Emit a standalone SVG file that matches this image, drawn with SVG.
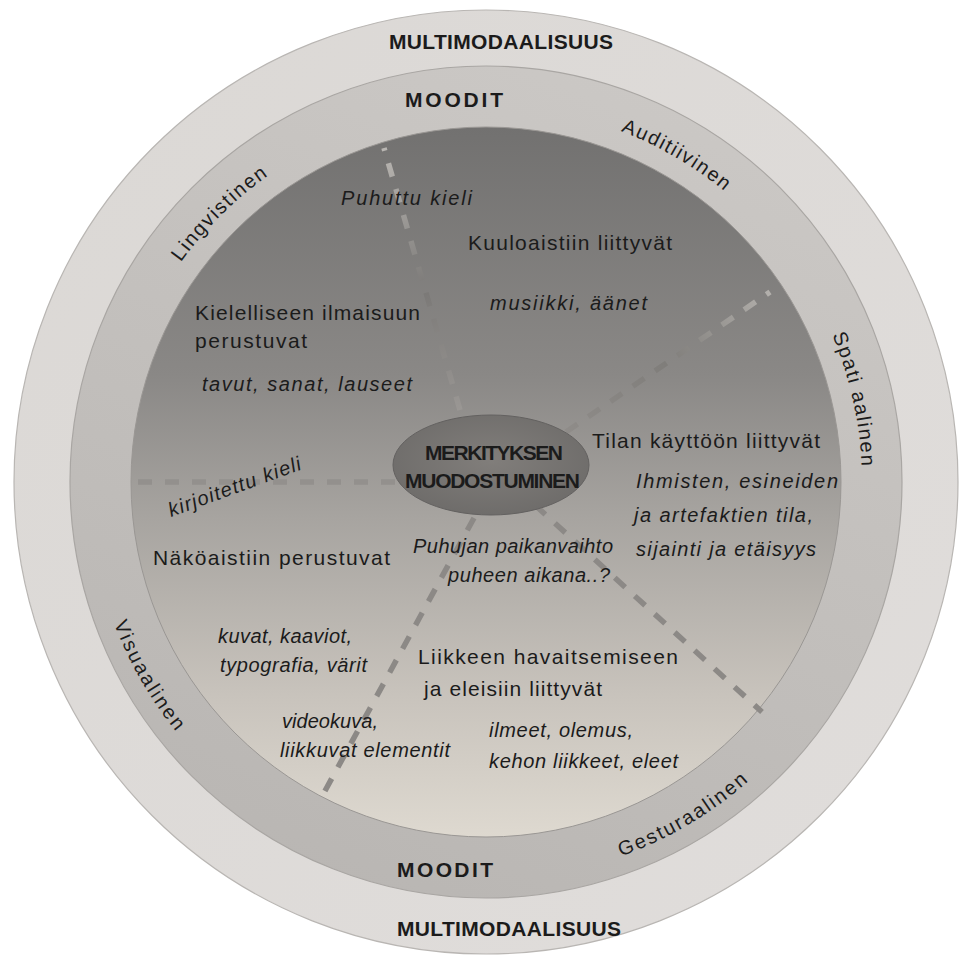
<svg xmlns="http://www.w3.org/2000/svg" width="959" height="960" viewBox="0 0 959 960">
<style>
.t{font-family:"Liberation Sans",Arial,Helvetica,sans-serif;font-size:21px;fill:#1b1b1b}
.i{font-style:italic;font-size:20px}
.b{font-weight:bold}
.rl{font-family:"Liberation Sans",Arial,Helvetica,sans-serif;font-size:20px;fill:#1b1b1b;letter-spacing:1.6px}
.dash{fill:none;stroke-width:5.5;stroke-dasharray:14 13}
</style>
<defs>
<linearGradient id="innerGrad" x1="0" y1="0" x2="0" y2="1">
<stop offset="0" stop-color="#727170"/>
<stop offset="0.35" stop-color="#8a8886"/>
<stop offset="0.55" stop-color="#a7a4a0"/>
<stop offset="0.8" stop-color="#c8c3bc"/>
<stop offset="1" stop-color="#ded9d0"/>
</linearGradient>
<linearGradient id="midGrad" x1="0.7" y1="0" x2="0.3" y2="1">
<stop offset="0" stop-color="#cbc8c5"/>
<stop offset="1" stop-color="#b9b6b3"/>
</linearGradient>
<linearGradient id="outGrad" x1="0" y1="0" x2="1" y2="1">
<stop offset="0" stop-color="#dbd8d5"/>
<stop offset="1" stop-color="#e0dddb"/>
</linearGradient>
<radialGradient id="ellGrad" cx="0.5" cy="0.45" r="0.6">
<stop offset="0" stop-color="#817e7b"/>
<stop offset="1" stop-color="#6d6b69"/>
</radialGradient>
<linearGradient id="fade1" gradientUnits="userSpaceOnUse" x1="460" y1="410" x2="384" y2="148">
<stop offset="0" stop-color="#9a9794"/>
<stop offset="0.45" stop-color="#7b7977"/>
<stop offset="1" stop-color="#bab7b3"/>
</linearGradient>
<linearGradient id="fade2" gradientUnits="userSpaceOnUse" x1="566" y1="432" x2="770" y2="292">
<stop offset="0" stop-color="#8f8c89"/>
<stop offset="0.5" stop-color="#7f7d7a"/>
<stop offset="1" stop-color="#b3b0ac"/>
</linearGradient>
<path id="cw" d="M110,482 A376,376 0 1 1 862,482 A376,376 0 1 1 110,482"/>
<path id="ccw" d="M88,482 A398,398 0 1 0 884,482 A398,398 0 1 0 88,482"/>
</defs>
<rect width="959" height="960" fill="#ffffff"/>
<g id="ring-multimodaalisuus">
<circle cx="486" cy="482" r="472" fill="url(#outGrad)" stroke="#b9b6b3" stroke-width="1.2"/>
<text class="t b" x="389" y="49" font-size="21" textLength="224">MULTIMODAALISUUS</text>
<text class="t b" x="397" y="936" font-size="21" textLength="224">MULTIMODAALISUUS</text>
</g>
<g id="ring-moodit">
<circle cx="486" cy="482" r="416" fill="url(#midGrad)" stroke="#a9a6a3" stroke-width="1.2"/>
<text class="t b" x="405" y="107" font-size="22" textLength="98">MOODIT</text>
<text class="t b" x="397" y="877" font-size="22" textLength="96">MOODIT</text>
<text class="rl"><textPath href="#cw" startOffset="297" text-anchor="middle">Lingvistinen</textPath></text>
<text class="rl"><textPath href="#cw" startOffset="789" text-anchor="middle">Auditiivinen</textPath></text>
<text class="rl"><textPath href="#cw" startOffset="1098" text-anchor="middle">Spati aalinen</textPath></text>
<text class="rl" style="letter-spacing:2px"><textPath href="#ccw" startOffset="838" text-anchor="middle">Gesturaalinen</textPath></text>
<text class="rl" style="letter-spacing:2.2px"><textPath href="#ccw" startOffset="208" text-anchor="middle">Visuaalinen</textPath></text>
</g>
<g id="inner-area">
<circle cx="486" cy="482" r="355" fill="url(#innerGrad)" stroke="#9a9794" stroke-width="1"/>
</g>
<g id="connectors">
<line class="dash" x1="460" y1="410" x2="384" y2="148" stroke="url(#fade1)"/>
<line class="dash" x1="566" y1="432" x2="770" y2="292" stroke="url(#fade2)"/>
<line class="dash" x1="395" y1="482" x2="131" y2="482" stroke="#93908d"/>
<line class="dash" x1="474" y1="518" x2="320" y2="800" stroke="#8c8986"/>
<line class="dash" x1="535" y1="505" x2="762" y2="712" stroke="#8c8986"/>
</g>
<g id="center">
<ellipse cx="491" cy="465" rx="98" ry="50" fill="url(#ellGrad)" stroke="#636160" stroke-width="1"/>
<text class="t b" x="425" y="460" font-size="15.5" textLength="138">MERKITYKSEN</text>
<text class="t b" x="405" y="488" font-size="15.5" textLength="175">MUODOSTUMINEN</text>
</g>
<g id="lingvistinen">
<text class="t i" x="341" y="205" textLength="131">Puhuttu kieli</text>
<text class="t" x="195" y="320" textLength="225">Kielelliseen ilmaisuun</text>
<text class="t" x="195" y="348" textLength="112">perustuvat</text>
<text class="t i" x="202" y="391" textLength="210">tavut, sanat, lauseet</text>
<text class="t i" transform="translate(171,517) rotate(-20)" textLength="140">kirjoitettu kieli</text>
</g>
<g id="auditiivinen">
<text class="t" x="468" y="250" textLength="204">Kuuloaistiin liittyvät</text>
<text class="t i" x="490" y="310" textLength="157">musiikki, äänet</text>
</g>
<g id="spatiaalinen">
<text class="t" x="592" y="448" textLength="228">Tilan käyttöön liittyvät</text>
<text class="t i" x="636" y="488" textLength="202">Ihmisten, esineiden</text>
<text class="t i" x="634" y="522" textLength="179">ja artefaktien tila,</text>
<text class="t i" x="636" y="556" textLength="180">sijainti ja etäisyys</text>
<text class="t i" x="413" y="553" textLength="200">Puhujan paikanvaihto</text>
<text class="t i" x="448" y="582" textLength="162">puheen aikana..?</text>
</g>
<g id="visuaalinen">
<text class="t" x="153" y="565" textLength="237">Näköaistiin perustuvat</text>
<text class="t i" x="218" y="643" textLength="134">kuvat, kaaviot,</text>
<text class="t i" x="220" y="672" textLength="147">typografia, värit</text>
<text class="t i" x="282" y="728" textLength="96">videokuva,</text>
<text class="t i" x="280" y="757" textLength="170">liikkuvat elementit</text>
</g>
<g id="gesturaalinen">
<text class="t" x="418" y="664" textLength="260">Liikkeen havaitsemiseen</text>
<text class="t" x="424" y="696" textLength="178">ja eleisiin liittyvät</text>
<text class="t i" x="489" y="737" textLength="144">ilmeet, olemus,</text>
<text class="t i" x="489" y="768" textLength="189">kehon liikkeet, eleet</text>
</g>
</svg>
